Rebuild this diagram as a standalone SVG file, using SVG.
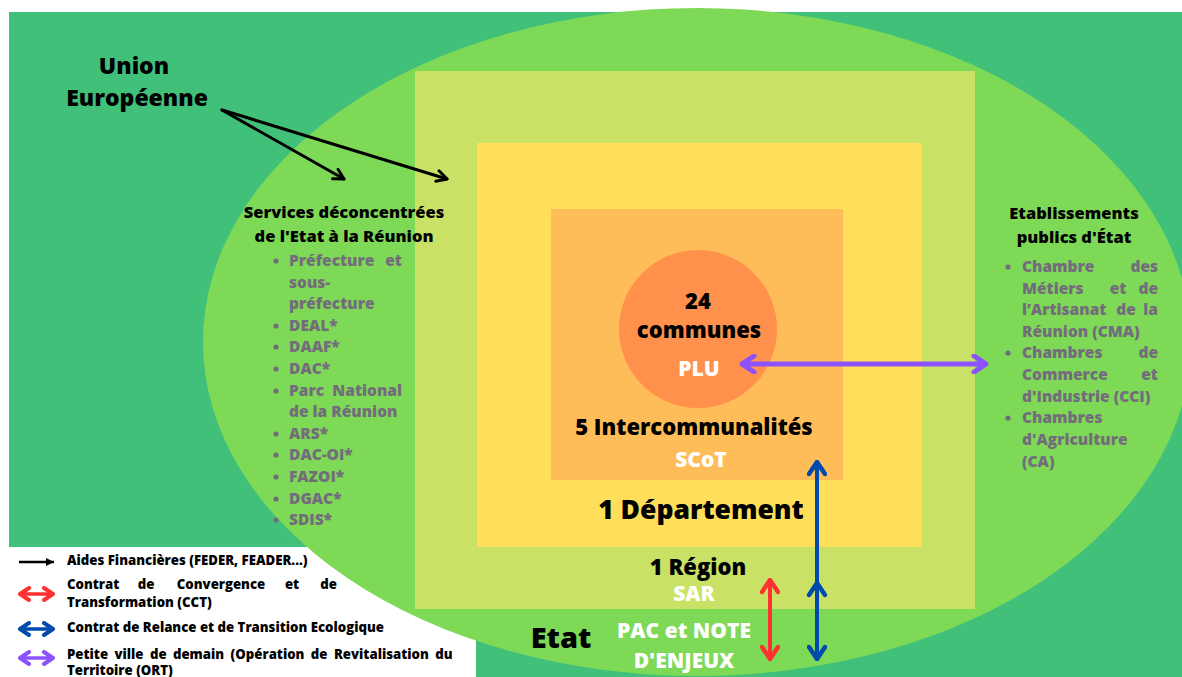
<svg xmlns="http://www.w3.org/2000/svg" width="1182" height="677" viewBox="0 0 1182 677">
<style>
text{font-family:"Open Sans","Liberation Sans",sans-serif;font-weight:800}
.blk{fill:#000}
.wht{fill:#fff}
.gry{fill:#736d7b}
.c{text-anchor:middle}
.e{text-anchor:end}
.h15{font-size:16.5px}
.g15{font-size:15.5px}
.leg{font-size:13.2px}
</style>
<defs>
<marker id="hBlack" viewBox="0 0 14 14" refX="12" refY="7" markerWidth="14" markerHeight="14" markerUnits="userSpaceOnUse" orient="auto-start-reverse">
<path d="M2,1.5 L12,7 L2,12.5" fill="none" stroke="#000" stroke-width="3" stroke-linecap="round" stroke-linejoin="round"/>
</marker>
<marker id="hPurple" viewBox="0 0 18 20" refX="16" refY="10" markerWidth="18" markerHeight="20" markerUnits="userSpaceOnUse" orient="auto-start-reverse">
<path d="M4,2 L16,10 L4,18" fill="none" stroke="#8c52ff" stroke-width="5" stroke-linecap="round" stroke-linejoin="round"/>
</marker>
<marker id="hBlue" viewBox="0 0 18 20" refX="16" refY="10" markerWidth="18" markerHeight="20" markerUnits="userSpaceOnUse" orient="auto-start-reverse">
<path d="M4,2 L16,10 L4,18" fill="none" stroke="#004aad" stroke-width="4.5" stroke-linecap="round" stroke-linejoin="round"/>
</marker>
<marker id="hRed" viewBox="0 0 18 20" refX="16" refY="10" markerWidth="18" markerHeight="20" markerUnits="userSpaceOnUse" orient="auto-start-reverse">
<path d="M4,2 L16,10 L4,18" fill="none" stroke="#ff3131" stroke-width="4.5" stroke-linecap="round" stroke-linejoin="round"/>
</marker>
<marker id="hLegBlack" viewBox="0 0 10 10" refX="9" refY="5" markerWidth="10" markerHeight="10" markerUnits="userSpaceOnUse" orient="auto">
<path d="M1,1 L9,5 L1,9 Z" fill="#000"/>
</marker>
<marker id="hLegPurple" viewBox="0 0 14 16" refX="12" refY="8" markerWidth="14" markerHeight="16" markerUnits="userSpaceOnUse" orient="auto-start-reverse">
<path d="M3,2 L12,8 L3,14" fill="none" stroke="#8c52ff" stroke-width="4" stroke-linecap="round" stroke-linejoin="round"/>
</marker>
<marker id="hLegBlue" viewBox="0 0 14 16" refX="12" refY="8" markerWidth="14" markerHeight="16" markerUnits="userSpaceOnUse" orient="auto-start-reverse">
<path d="M3,2 L12,8 L3,14" fill="none" stroke="#004aad" stroke-width="4" stroke-linecap="round" stroke-linejoin="round"/>
</marker>
<marker id="hLegRed" viewBox="0 0 14 16" refX="12" refY="8" markerWidth="14" markerHeight="16" markerUnits="userSpaceOnUse" orient="auto-start-reverse">
<path d="M3,2 L12,8 L3,14" fill="none" stroke="#ff3131" stroke-width="4" stroke-linecap="round" stroke-linejoin="round"/>
</marker>
</defs>

<rect x="0" y="0" width="1182" height="677" fill="#fff"/>
<rect x="9" y="12" width="1173" height="665" fill="#41c07a"/>
<rect id="legend-box" x="0" y="547" width="476" height="130" fill="#fff"/>

<g id="etat">
<ellipse cx="697" cy="342" rx="494" ry="334" fill="#7ed957"/>
<text class="blk c" x="561" y="648" style="font-size:29px">Etat</text>
<text class="wht c" x="684" y="638" style="font-size:21px">PAC et NOTE</text>
<text class="wht c" x="684" y="668" style="font-size:21px">D'ENJEUX</text>
</g>

<g id="region">
<rect x="415" y="71" width="560" height="538" fill="#c9e265"/>
<text class="blk c" x="698" y="575" style="font-size:22px">1 Région</text>
<text class="wht c" x="694" y="601" style="font-size:21px">SAR</text>
</g>

<g id="departement">
<rect x="477" y="143" width="445" height="404" fill="#ffde59"/>
<text class="blk c" x="701" y="519" style="font-size:26.5px">1 Département</text>
</g>

<g id="intercommunalites">
<rect x="551" y="209" width="292" height="271" fill="#ffbd59"/>
<text class="blk c" x="694" y="435" style="font-size:22px">5 Intercommunalités</text>
<text class="wht c" x="701" y="467" style="font-size:21px">SCoT</text>
</g>

<g id="communes">
<circle cx="698" cy="329" r="79" fill="#ff914d"/>
<text class="blk c" x="698" y="309" style="font-size:22px">24</text>
<text class="blk c" x="699" y="338" style="font-size:22px">communes</text>
<text class="wht c" x="699" y="376" style="font-size:21px">PLU</text>
</g>

<g id="union-europeenne">
<text class="blk c" x="134" y="74" style="font-size:23px">Union</text>
<text class="blk c" x="137" y="106" style="font-size:23px">Européenne</text>
</g>

<g id="services-deconcentres">
<text class="blk c h15" x="344" y="218">Services déconcentrées</text>
<text class="blk c h15" x="344" y="242">de l'Etat à la Réunion</text>
<g class="gry">
<circle cx="276" cy="261" r="2.6"/>
<circle cx="276" cy="326" r="2.6"/>
<circle cx="276" cy="347" r="2.6"/>
<circle cx="276" cy="369" r="2.6"/>
<circle cx="276" cy="391" r="2.6"/>
<circle cx="276" cy="434" r="2.6"/>
<circle cx="276" cy="455" r="2.6"/>
<circle cx="276" cy="477" r="2.6"/>
<circle cx="276" cy="499" r="2.6"/>
<circle cx="276" cy="520" r="2.6"/>
</g>
<text class="gry g15" y="266"><tspan x="289">Préfecture</tspan><tspan x="402" class="e">et</tspan></text>
<text class="gry g15" x="289" y="288">sous-</text>
<text class="gry g15" x="289" y="309">préfecture</text>
<text class="gry g15" x="289" y="331">DEAL*</text>
<text class="gry g15" x="289" y="352">DAAF*</text>
<text class="gry g15" x="289" y="374">DAC*</text>
<text class="gry g15" y="396"><tspan x="289">Parc</tspan><tspan x="402" class="e">National</tspan></text>
<text class="gry g15" x="289" y="417">de la Réunion</text>
<text class="gry g15" x="289" y="439">ARS*</text>
<text class="gry g15" x="289" y="460">DAC-OI*</text>
<text class="gry g15" x="289" y="482">FAZOI*</text>
<text class="gry g15" x="289" y="504">DGAC*</text>
<text class="gry g15" x="289" y="525">SDIS*</text>
</g>

<g id="etablissements-publics">
<text class="blk c h15" x="1074" y="219">Etablissements</text>
<text class="blk c h15" x="1074" y="243">publics d'État</text>
<g class="gry">
<circle cx="1008" cy="267" r="2.6"/>
<circle cx="1008" cy="353" r="2.6"/>
<circle cx="1008" cy="418" r="2.6"/>
</g>
<text class="gry g15" y="272"><tspan x="1022">Chambre</tspan><tspan x="1158" class="e">des</tspan></text>
<text class="gry g15" y="294"><tspan x="1022">Métiers</tspan><tspan x="1118" class="c">et</tspan><tspan x="1158" class="e">de</tspan></text>
<text class="gry g15" y="315"><tspan x="1022">l’Artisanat</tspan><tspan x="1126" class="c">de</tspan><tspan x="1158" class="e">la</tspan></text>
<text class="gry g15" x="1022" y="337">Réunion (CMA)</text>
<text class="gry g15" y="358"><tspan x="1022">Chambres</tspan><tspan x="1158" class="e">de</tspan></text>
<text class="gry g15" y="380"><tspan x="1022">Commerce</tspan><tspan x="1158" class="e">et</tspan></text>
<text class="gry g15" x="1022" y="402">d'Industrie (CCI)</text>
<text class="gry g15" x="1022" y="423">Chambres</text>
<text class="gry g15" x="1022" y="445">d'Agriculture</text>
<text class="gry g15" x="1022" y="467">(CA)</text>
</g>

<g id="connectors" fill="none" stroke-linecap="round">
<line x1="222" y1="110" x2="344" y2="179" stroke="#000" stroke-width="3" marker-end="url(#hBlack)"/>
<line x1="222" y1="110" x2="447" y2="179" stroke="#000" stroke-width="3" marker-end="url(#hBlack)"/>
<line x1="742" y1="364" x2="986" y2="364" stroke="#8c52ff" stroke-width="5" marker-start="url(#hPurple)" marker-end="url(#hPurple)"/>
<line x1="817" y1="462" x2="817" y2="659" stroke="#004aad" stroke-width="4" marker-start="url(#hBlue)" marker-end="url(#hBlue)"/>
<path d="M809,595 L817,583 L825,595" stroke="#004aad" stroke-width="4.5" stroke-linejoin="round"/>
<line x1="770" y1="580" x2="770" y2="659" stroke="#ff3131" stroke-width="4" marker-start="url(#hRed)" marker-end="url(#hRed)"/>
</g>

<g id="legend">
<line x1="19" y1="562" x2="54" y2="562" stroke="#000" stroke-width="2.5" marker-end="url(#hLegBlack)"/>
<text class="blk leg" x="67" y="565">Aides Financières (FEDER, FEADER...)</text>
<line x1="20" y1="594" x2="53" y2="594" stroke="#ff3131" stroke-width="3.5" marker-start="url(#hLegRed)" marker-end="url(#hLegRed)"/>
<text class="blk leg" y="589"><tspan x="67">Contrat</tspan><tspan x="146" class="c">de</tspan><tspan x="221" class="c">Convergence</tspan><tspan x="292" class="c">et</tspan><tspan x="337" class="e">de</tspan></text>
<text class="blk leg" x="67" y="607">Transformation (CCT)</text>
<line x1="20" y1="629" x2="53" y2="629" stroke="#004aad" stroke-width="3.5" marker-start="url(#hLegBlue)" marker-end="url(#hLegBlue)"/>
<text class="blk leg" x="67" y="632">Contrat de Relance et de Transition Ecologique</text>
<line x1="20" y1="658" x2="53" y2="658" stroke="#8c52ff" stroke-width="3.5" marker-start="url(#hLegPurple)" marker-end="url(#hLegPurple)"/>
<text class="blk leg" x="67" y="659" word-spacing="3">Petite ville de demain (Opération de Revitalisation du</text>
<text class="blk leg" x="67" y="675">Territoire (ORT)</text>
</g>
</svg>
